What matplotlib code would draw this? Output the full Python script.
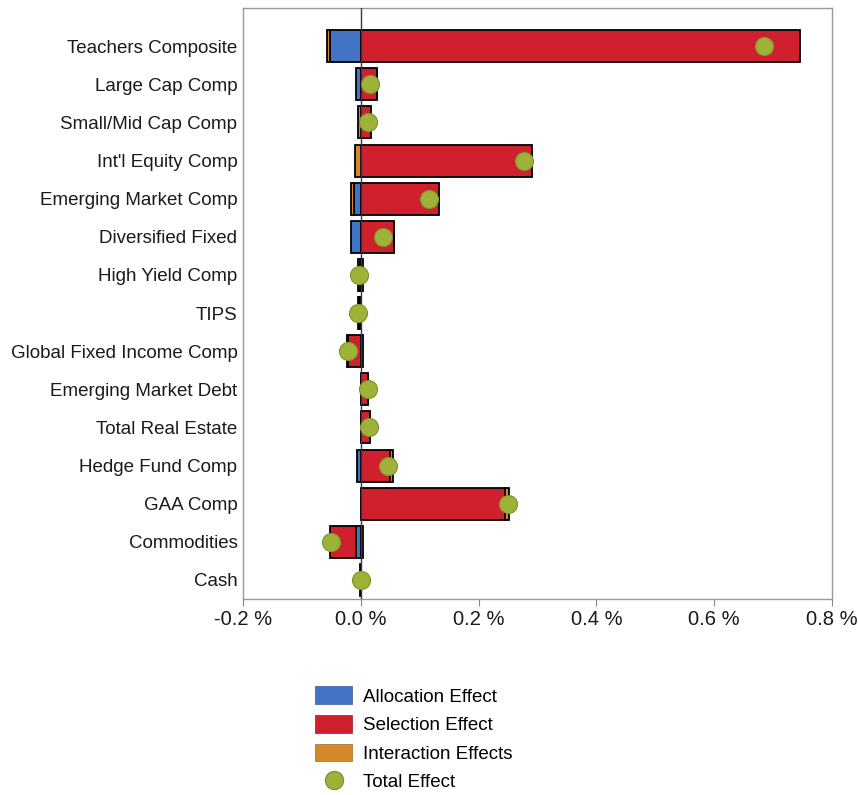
import numpy as np
import matplotlib
matplotlib.use('Agg')
import matplotlib.pyplot as plt
from matplotlib.patches import Patch
from matplotlib.lines import Line2D

plt.rcParams['font.family'] = ['Liberation Sans', 'DejaVu Sans']

categories = ["Teachers Composite", "Large Cap Comp", "Small/Mid Cap Comp",
              "Int'l Equity Comp", "Emerging Market Comp", "Diversified Fixed",
              "High Yield Comp", "TIPS", "Global Fixed Income Comp",
              "Emerging Market Debt", "Total Real Estate", "Hedge Fund Comp",
              "GAA Comp", "Commodities", "Cash"]
allocation = [-0.052, -0.008, 0.000, 0.000, -0.012, -0.016, -0.002, 0.001,
              0.003, 0.000, 0.000, -0.007, 0.000, -0.008, 0.000]
selection = [0.745, 0.027, 0.018, 0.290, 0.133, 0.056, 0.003, -0.003,
             -0.022, 0.013, 0.015, 0.050, 0.244, -0.044, 0.001]
interaction = [-0.005, 0.000, -0.004, -0.010, -0.004, 0.000, -0.003, -0.002,
               -0.002, 0.000, 0.000, 0.004, 0.007, 0.003, -0.001]
total = [0.684, 0.016, 0.012, 0.277, 0.115, 0.038, -0.003, -0.004,
         -0.021, 0.012, 0.014, 0.046, 0.250, -0.050, 0.000]
x_ticks = [-0.2, 0.0, 0.2, 0.4, 0.6, 0.8]

c_alloc = '#4472C4'
c_sel = '#D0202E'
c_inter = '#D4882A'
c_tot = '#9DB236'

fig = plt.figure(figsize=(8.58, 7.95), dpi=100)
ax = fig.add_axes([0.2832, 0.2465, 0.6865, 0.7434])

y = np.arange(len(categories))
pos = np.zeros(len(categories))
neg = np.zeros(len(categories))
for vals, col in [(allocation, c_alloc), (selection, c_sel), (interaction, c_inter)]:
    v = np.array(vals)
    left = np.where(v >= 0, pos, neg)
    ax.barh(y, v, left=left, height=0.84, color=col, edgecolor='black',
            linewidth=1.3, zorder=2)
    pos = pos + np.where(v >= 0, v, 0)
    neg = neg + np.where(v < 0, v, 0)

ax.axvline(0, color='#2E3A55', linewidth=1.0, zorder=3)
ax.plot(total, y, 'o', markersize=13, color=c_tot, markeredgecolor='#7F9430',
        markeredgewidth=0.8, zorder=4, linestyle='none')

ax.set_xlim(-0.2, 0.8)
ax.set_ylim(14.5, -1.0)
ax.set_yticks(y)
ax.set_yticklabels(categories, fontsize=13.5, color='#1a1a1a')
ax.tick_params(axis='y', length=0, pad=4)
ax.set_xticks(x_ticks)
ax.set_xticklabels(['%.1f %%' % t for t in x_ticks], fontsize=14.5, color='#1a1a1a')
ax.tick_params(axis='x', length=5, color='#888888', pad=3)
for s in ax.spines.values():
    s.set_color('#999999')
    s.set_linewidth(1.0)

handles = [Patch(facecolor=c_alloc, edgecolor='#3a5a9a', linewidth=0.5),
           Patch(facecolor=c_sel, edgecolor='#a01a22', linewidth=0.5),
           Patch(facecolor=c_inter, edgecolor='#a06a20', linewidth=0.5),
           Line2D([], [], marker='o', linestyle='none', markersize=13,
                  color=c_tot, markeredgecolor='#7F9430')]
labels = ['Allocation Effect', 'Selection Effect', 'Interaction Effects', 'Total Effect']
fig.legend(handles, labels, loc='upper left', bbox_to_anchor=(0.3566, 0.1484),
           frameon=False, fontsize=13.5, handlelength=1.97, handleheight=1.07,
           labelspacing=0.5, handletextpad=0.55, borderpad=0)

fig.savefig('out.png', dpi=100)
